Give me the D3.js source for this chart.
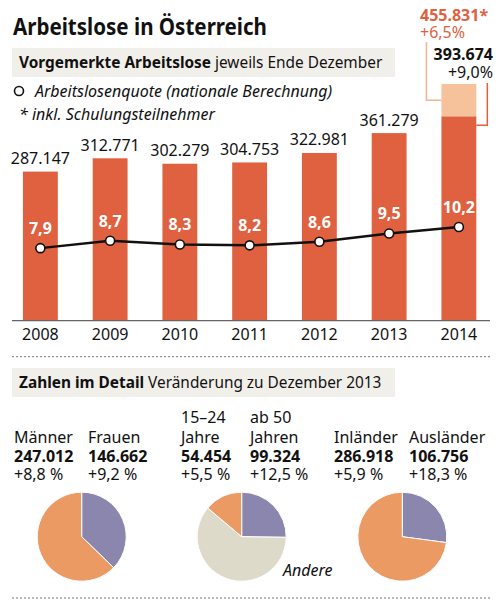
<!DOCTYPE html>
<html>
<head>
<meta charset="utf-8">
<script src="https://cdn.jsdelivr.net/npm/d3@7"></script>
<style>
  body { margin: 0; background: #fff; }
  svg { display: block; font-family: "Noto Sans", sans-serif; }
</style>
</head>
<body>
<script>
// data
const years = ['2008', '2009', '2010', '2011', '2012', '2013', '2014'];
const registered = [287147, 312771, 302279, 304753, 322981, 361279, 393674];
const rates = [7.9, 8.7, 8.3, 8.2, 8.6, 9.5, 10.2];
const withTraining2014 = 455831;
const changeRegistered2014 = 9.0;
const changeWithTraining2014 = 6.5;

const sexLabels = [['Männer'], ['Frauen']];
const sexValues = [247012, 146662];
const sexChanges = [8.8, 9.2];

const ageLabels = [['15–24', 'Jahre'], ['ab 50', 'Jahren']];
const ageValues = [54454, 99324];
const ageChanges = [5.5, 12.5];
const ageOtherLabel = 'Andere';

const originLabels = [['Inländer'], ['Ausländer']];
const originValues = [286918, 106756];
const originChanges = [5.9, 18.3];

const W = 500, H = 605;
const barColor = '#e0613f', lightBar = '#f5c29b';
const pieOrange = '#eb9a63', piePurple = '#8a86ad', pieGrey = '#dedac9';

const de = d3.formatLocale({decimal: ',', thousands: '.', grouping: [3], currency: ['', '']});
const fmtInt = de.format(',d');
const fmtOne = de.format('.1f');

const svg = d3.select('body').append('svg').attr('width', W).attr('height', H);

// title (Schrift der Vorlage ist schmaler -> auf Breite stauchen)
svg.append('text').text('Arbeitslose in Österreich')
  .attr('x', 13).attr('y', 35)
  .attr('textLength', 254).attr('lengthAdjust', 'spacingAndGlyphs')
  .attr('font-size', 23).attr('font-weight', 'bold').attr('fill', '#111');

// subtitle box
svg.append('rect').attr('x', 12).attr('y', 48).attr('width', 383).attr('height', 29).attr('fill', '#f1efea');
const sub = svg.append('text').attr('x', 19).attr('y', 68).attr('font-size', 15.4).attr('fill', '#111');
sub.append('tspan').text('Vorgemerkte Arbeitslose').attr('font-weight', 'bold');
sub.append('tspan').text(' jeweils Ende Dezember');

// legend
svg.append('circle').attr('cx', 19).attr('cy', 91).attr('r', 4.5)
  .attr('fill', '#fff').attr('stroke', '#111').attr('stroke-width', 1.6);
svg.append('text').text('Arbeitslosenquote (nationale Berechnung)')
  .attr('x', 35).attr('y', 97).attr('font-size', 16).attr('font-style', 'italic').attr('fill', '#111');
svg.append('text').text('* inkl. Schulungsteilnehmer')
  .attr('x', 19).attr('y', 120).attr('font-size', 16).attr('font-style', 'italic').attr('fill', '#111');

// scales
const base = 320.7;
const x = d3.scaleBand().domain(years).range([5.5, 493.75]).paddingInner(0.5).paddingOuter(0.25);
const y = d3.scaleLinear().domain([0, withTraining2014]).range([base, 84]);
const yRate = d3.scaleLinear().domain([0, 10.2]).range([base, 227]);

// bars
const g = svg.append('g');
g.selectAll('rect.bar').data(years).enter().append('rect')
  .attr('class', 'bar')
  .attr('x', d => x(d)).attr('width', x.bandwidth())
  .attr('y', (d, i) => y(registered[i]))
  .attr('height', (d, i) => base - y(registered[i]))
  .attr('fill', barColor);

// 2014 extra (incl. Schulungsteilnehmer)
const last = years[years.length - 1];
const lastVal = registered[registered.length - 1];
g.append('rect').attr('x', x(last)).attr('width', x.bandwidth())
  .attr('y', y(withTraining2014)).attr('height', y(lastVal) - y(withTraining2014))
  .attr('fill', lightBar);

// value labels (2008-2013)
g.selectAll('text.val').data(years.slice(0, -1)).enter().append('text')
  .attr('class', 'val')
  .attr('x', d => x(d) + x.bandwidth() / 2)
  .attr('y', (d, i) => y(registered[i]) - 7.5)
  .attr('text-anchor', 'middle').attr('font-size', 16).attr('fill', '#111')
  .text((d, i) => fmtInt(registered[i]));

// 2014 annotations
const xl = x(last), xr = x(last) + x.bandwidth();
const midLight = (y(withTraining2014) + y(lastVal)) / 2;
g.append('path')
  .attr('d', `M${xl - 15},42V${midLight}H${xl}`)
  .attr('fill', 'none').attr('stroke', '#f0b48e').attr('stroke-width', 1.5);
g.append('path')
  .attr('d', `M${xr + 11},83V${y(lastVal) + 9}H${xr}`)
  .attr('fill', 'none').attr('stroke', barColor).attr('stroke-width', 1.5);
g.append('text').text(fmtInt(withTraining2014) + '*')
  .attr('x', 420).attr('y', 21).attr('font-size', 16).attr('font-weight', 'bold').attr('fill', barColor);
g.append('text').text('+' + fmtOne(changeWithTraining2014) + '%')
  .attr('x', 420).attr('y', 38).attr('font-size', 16).attr('fill', barColor);
g.append('text').text(fmtInt(lastVal))
  .attr('x', 493).attr('y', 60).attr('text-anchor', 'end')
  .attr('font-size', 16).attr('font-weight', 'bold').attr('fill', '#111');
g.append('text').text('+' + fmtOne(changeRegistered2014) + '%')
  .attr('x', 493).attr('y', 78).attr('text-anchor', 'end').attr('font-size', 16).attr('fill', '#111');

// axis
g.append('line').attr('x1', 12).attr('x2', 490).attr('y1', base).attr('y2', base)
  .attr('stroke', '#666').attr('stroke-width', 1.2);
const xAxis = g.append('g').attr('transform', `translate(0,${base})`)
  .call(d3.axisBottom(x).tickSize(0).tickPadding(8));
xAxis.select('.domain').remove();
xAxis.selectAll('text').attr('font-size', 16).attr('fill', '#111')
  .attr('font-family', '"Noto Sans", sans-serif');

// rate line
const cx = d => x(d) + x.bandwidth() / 2;
const line = d3.line().x((d, i) => cx(years[i])).y(d => yRate(d));
g.append('path').datum(rates).attr('d', line)
  .attr('fill', 'none').attr('stroke', '#111').attr('stroke-width', 2.5);
g.selectAll('circle.pt').data(rates).enter().append('circle')
  .attr('class', 'pt')
  .attr('cx', (d, i) => cx(years[i])).attr('cy', d => yRate(d)).attr('r', 4.5)
  .attr('fill', '#fff').attr('stroke', '#111').attr('stroke-width', 1.6);
g.selectAll('text.rate').data(rates).enter().append('text')
  .attr('class', 'rate')
  .attr('x', (d, i) => cx(years[i])).attr('y', d => yRate(d) - 14)
  .attr('text-anchor', 'middle').attr('font-size', 16).attr('font-weight', 'bold').attr('fill', '#fff')
  .text(d => fmtOne(d));

// separators
[356.7, 598].forEach(yy => {
  svg.append('line').attr('x1', 12).attr('x2', 490).attr('y1', yy).attr('y2', yy)
    .attr('stroke', '#777').attr('stroke-width', 1).attr('stroke-dasharray', '2,2');
});

// detail section header
svg.append('rect').attr('x', 12).attr('y', 368).attr('width', 383).attr('height', 29).attr('fill', '#f1efea');
const sub2 = svg.append('text').attr('x', 19).attr('y', 388).attr('font-size', 15.4).attr('fill', '#111');
sub2.append('tspan').text('Zahlen im Detail').attr('font-weight', 'bold');
sub2.append('tspan').text(' Veränderung zu Dezember 2013');

// pies
const total = lastVal;
const arc = d3.arc().innerRadius(0).outerRadius(44.5);
const pie = d3.pie().sort(null).value(d => d.v);

const groups = [
  {labels: sexLabels, values: sexValues, changes: sexChanges, cols: [14, 88], cx: 81.7,
   slices: [{v: sexValues[1], c: piePurple}, {v: sexValues[0], c: pieOrange}]},
  {labels: ageLabels, values: ageValues, changes: ageChanges, cols: [181, 250], cx: 241.7,
   slices: [{v: ageValues[1], c: piePurple}, {v: total - ageValues[0] - ageValues[1], c: pieGrey},
            {v: ageValues[0], c: pieOrange}]},
  {labels: originLabels, values: originValues, changes: originChanges, cols: [334, 409], cx: 402.3,
   slices: [{v: originValues[1], c: piePurple}, {v: originValues[0], c: pieOrange}]}
];

const pieCy = 536.7;
groups.forEach(grp => {
  grp.cols.forEach((colX, k) => {
    const lbl = grp.labels[k];
    const t = svg.append('g').attr('font-size', 16).attr('fill', '#111');
    lbl.forEach((ln, j) => {
      t.append('text').attr('x', colX).attr('y', 443 - (lbl.length - 1 - j) * 20).text(ln);
    });
    t.append('text').attr('x', colX).attr('y', 461.5).attr('font-weight', 'bold').text(fmtInt(grp.values[k]));
    t.append('text').attr('x', colX).attr('y', 479.5).text('+' + fmtOne(grp.changes[k]) + ' %');
  });
  const pg = svg.append('g').attr('transform', `translate(${grp.cx},${pieCy})`);
  pg.selectAll('path').data(pie(grp.slices)).enter().append('path')
    .attr('d', arc).attr('fill', d => d.data.c)
    .attr('stroke', '#fff').attr('stroke-width', 1);
});

svg.append('text').text(ageOtherLabel).attr('x', 283).attr('y', 576)
  .attr('font-size', 16).attr('font-style', 'italic').attr('fill', '#111');
</script>
</body>
</html>
